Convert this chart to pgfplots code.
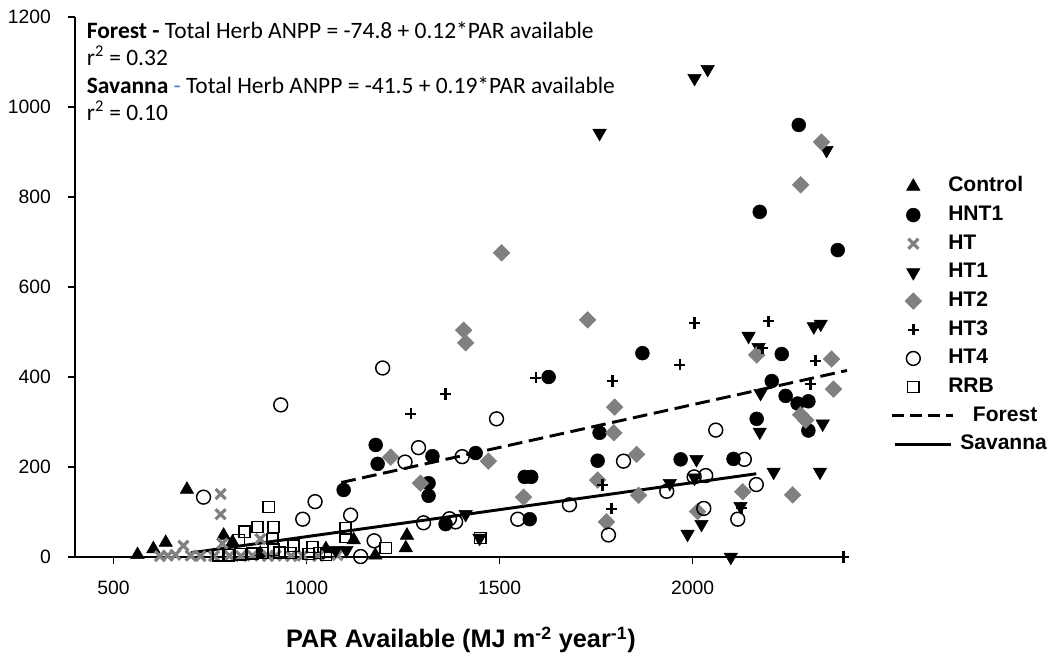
\documentclass[border=0pt]{standalone}
\usepackage{pgfplots}
\pgfplotsset{compat=1.18}
\usepackage{fontspec}
\setmainfont{Liberation Sans}
\newfontfamily\calibri{Carlito}
\definecolor{mgray}{RGB}{128,128,128}
\definecolor{dashblue}{RGB}{79,129,189}
\begin{document}
\begin{tikzpicture}
\begin{axis}[
  scale only axis, width=579pt, height=405pt,
  xmin=400, xmax=2400, ymin=0, ymax=1200,
  axis x line*=bottom, axis y line*=left,
  xtick={500,1000,1500,2000}, ytick={0,200,...,1200},
  tick align=outside, major tick length=5.5pt,
  tick style={line width=0.9pt, black},
  axis line style={line width=1.1pt, black},
  ticklabel style={font=\fontsize{14.5}{17}\selectfont},
  xticklabel style={yshift=-9pt},
  yticklabel style={xshift=-9pt},
  /pgf/number format/assume math mode=true,
  /pgf/number format/set thousands separator={},
  clip=false,
  xlabel={\bfseries PAR Available (MJ m\textsuperscript{-2} year\textsuperscript{-1})},
  xlabel style={font=\fontsize{19}{22}\selectfont, at={(axis description cs:0.5,0)}, anchor=base, yshift=-68pt},
  legend style={draw=none, fill=none, at={(axis description cs:1.0708,0.704)}, anchor=north west,
    inner sep=0pt, font=\bfseries\fontsize{15.8}{18}\selectfont, row sep=7.5pt, column sep=20pt,
    nodes={text height=11pt, text depth=3pt, inner sep=0pt}},
  legend cell align=left,
]
% Control
\addplot[only marks, mark=triangle*, black, mark size=5.8pt] coordinates {
(562,5) (603,18) (635,32) (690,150) (785,48) (808,33) (880,8) (1050,18) (1122,38) (1178,4) (1257,20) (1260,48)
};
\addlegendentry{Control}
% HNT1
\addplot[only marks, mark=*, black, mark size=5.2pt] coordinates {
(1096,149) (1179,249) (1184,207) (1316,164) (1316,136) (1326,224) (1360,73) (1438,231) (1565,178) (1582,178)
(1578,84) (1627,400) (1754,214) (1759,276) (1870,453) (1969,217) (2106,218) (2166,307) (2174,767) (2205,391)
(2231,451) (2241,358) (2272,341) (2275,960) (2300,346) (2300,281) (2376,682)
};
\addlegendentry{HNT1}
% HT
\addplot[only marks, mark=x, mgray, mark size=5.3pt, line width=2.4pt] coordinates {
(620,2) (640,3) (660,5) (681,25) (700,3) (725,2) (760,2) (777,140) (777,95) (782,30) (800,3) (830,2)
(860,3) (880,40) (900,2) (920,3) (960,2) (990,3) (1030,2) (1080,4)
};
\addlegendentry{HT}
% HT1
\addplot[only marks, mark=triangle*, black, mark size=5.8pt, mark options={rotate=180}] coordinates {
(1075,15) (1103,15) (1412,95) (1448,42) (1759,942) (1941,164) (1987,51) (2005,176) (2005,1064) (2010,217)
(2023,73) (2039,1084) (2099,0) (2124,113) (2145,491) (2171,466) (2176,364) (2174,278) (2210,189) (2314,512)
(2332,518) (2330,189) (2337,296) (2347,904)
};
\addlegendentry{HT1}
% HT2
\addplot[only marks, mark=square*, mgray, mark size=4.4pt, mark options={rotate=45}] coordinates {
(1218,222) (1295,164) (1407,504) (1412,476) (1471,213) (1505,676) (1562,133) (1728,527) (1754,171) (1777,78)
(1796,276) (1798,333) (1855,228) (1860,137) (2013,101) (2130,145) (2166,449) (2259,138) (2280,827) (2280,316)
(2293,304) (2334,922) (2360,440) (2365,373)
};
\addlegendentry{HT2}
% HT3
\addplot[only marks, mark=+, black, mark size=4.2pt, line width=1.9pt] coordinates {
(1270,318) (1360,362) (1594,398) (1767,160) (1790,107) (1793,391) (1967,427) (2005,520) (2127,109) (2181,464)
(2197,524) (2306,384) (2319,436) (2391,0)
};
\addlegendentry{HT3}
% HT4
\addplot[only marks, mark=o, black, mark size=5.2pt, line width=1.1pt, mark options={fill=white}] coordinates {
(733,133) (933,338) (990,84) (1022,123) (1114,93) (1140,1) (1175,36) (1197,420) (1255,211) (1290,243)
(1303,76) (1370,85) (1386,78) (1403,223) (1492,307) (1547,84) (1681,116) (1782,49) (1821,213) (1933,146)
(2004,178) (2034,181) (2029,108) (2060,282) (2117,84) (2134,217) (2165,161)
};
\addlegendentry{HT4}
% RRB
\addplot[only marks, mark=square, black, mark size=4.2pt, line width=1.1pt, mark options={fill=white}] coordinates {
(772,4) (798,4) (825,38) (829,6) (839,56) (860,8) (873,67) (886,9) (902,111) (912,40) (914,67) (914,16)
(930,10) (958,9) (966,25) (1005,7) (1015,22) (1032,9) (1050,5) (1101,64) (1101,45) (1205,20) (1450,42)
};
\addlegendentry{RRB}
% Forest (dashed)
\addplot[black, line width=2.2pt, dash pattern=on 11pt off 5pt, no marks,
  legend image code/.code={\draw[black, line width=2.2pt, overlay, dash pattern=on 9pt off 4.5pt] (-7.2pt,0pt) -- (38pt,0pt);}]
  coordinates {(1090,165.6) (2400,414.5)};
\addlegendentry{\hspace{18.5pt}Forest}
% Savanna (solid)
\addplot[black, line width=2.2pt, no marks,
  legend image code/.code={\draw[black, line width=2.2pt, overlay] (-5pt,0pt) -- (37pt,0pt);}]
  coordinates {(700,9.2) (2165,185)};
\addlegendentry{\hspace{9pt}Savanna}

\node[anchor=base west, font=\calibri\fontsize{17.6}{20}\selectfont] at (axis description cs:0.0093,0.961)
  {\textbf{Forest -} Total Herb ANPP = -74.8 + 0.12*PAR available};
\node[anchor=base west, font=\calibri\fontsize{17.6}{20}\selectfont] at (axis description cs:0.0093,0.911)
  {r\textsuperscript{2} = 0.32};
\node[anchor=base west, font=\calibri\fontsize{17.6}{20}\selectfont] at (axis description cs:0.0093,0.859)
  {\textbf{Savanna} \textcolor{dashblue}{-} Total Herb ANPP = -41.5 + 0.19*PAR available};
\node[anchor=base west, font=\calibri\fontsize{17.6}{20}\selectfont] at (axis description cs:0.0093,0.809)
  {r\textsuperscript{2} = 0.10};
\end{axis}
\pgfresetboundingbox
\path (-56.25pt,-74.25pt) rectangle (731.25pt,417.75pt);
\end{tikzpicture}
\end{document}
